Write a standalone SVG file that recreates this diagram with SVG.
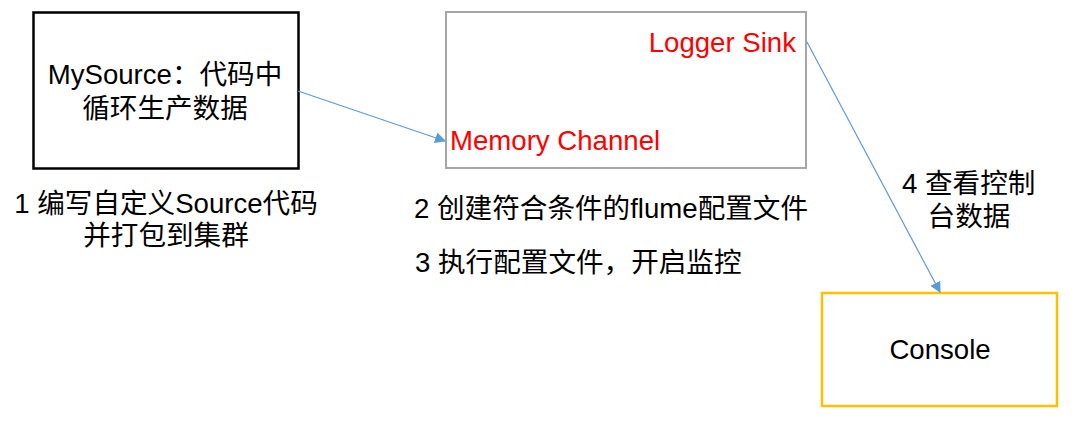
<svg xmlns="http://www.w3.org/2000/svg" width="1077" height="430" viewBox="0 0 1077 430">
<style>
text{font-family:"Liberation Sans","Noto Sans CJK SC",sans-serif;font-size:27.6px;fill:#000}
.red{fill:#ff0000}
.conn{stroke:#5b9bd5;stroke-width:1.2;fill:none}
</style>
<defs>
<marker id="ah" viewBox="0 0 10 10" refX="9" refY="5" markerWidth="11" markerHeight="11" markerUnits="userSpaceOnUse" orient="auto">
<path d="M0,0 L10,5 L0,10 z" fill="#5b9bd5"/>
</marker>
</defs>
<rect width="1077" height="430" fill="#fff"/>
<g id="source">
<rect x="33.5" y="12.5" width="265" height="156" fill="#fff" stroke="#000" stroke-width="2.5"/>
<text x="165" y="84" text-anchor="middle">MySource：代码中</text>
<text x="165" y="118" text-anchor="middle">循环生产数据</text>
</g>
<g id="agent">
<rect x="446" y="12" width="360" height="156" fill="#fff" stroke="#a6a6a6" stroke-width="2"/>
<text class="red" x="796" y="52" text-anchor="end">Logger Sink</text>
<text class="red" x="450" y="150">Memory Channel</text>
</g>
<g id="console">
<rect x="822" y="293" width="235" height="113" fill="#fff" stroke="#ffc000" stroke-width="2.5"/>
<text x="940" y="359" text-anchor="middle">Console</text>
</g>
<g id="labels">
<text x="166" y="213" text-anchor="middle">1 编写自定义Source代码</text>
<text x="166" y="245" text-anchor="middle">并打包到集群</text>
<text x="414" y="218">2 创建符合条件的flume配置文件</text>
<text x="415" y="272">3 执行配置文件，开启监控</text>
<text x="902" y="193">4 查看控制</text>
<text x="969" y="226" text-anchor="middle">台数据</text>
</g>
<g id="connectors">
<line class="conn" x1="298" y1="91" x2="445" y2="141" marker-end="url(#ah)"/>
<line class="conn" x1="807" y1="42" x2="940" y2="292" marker-end="url(#ah)"/>
</g>
</svg>
